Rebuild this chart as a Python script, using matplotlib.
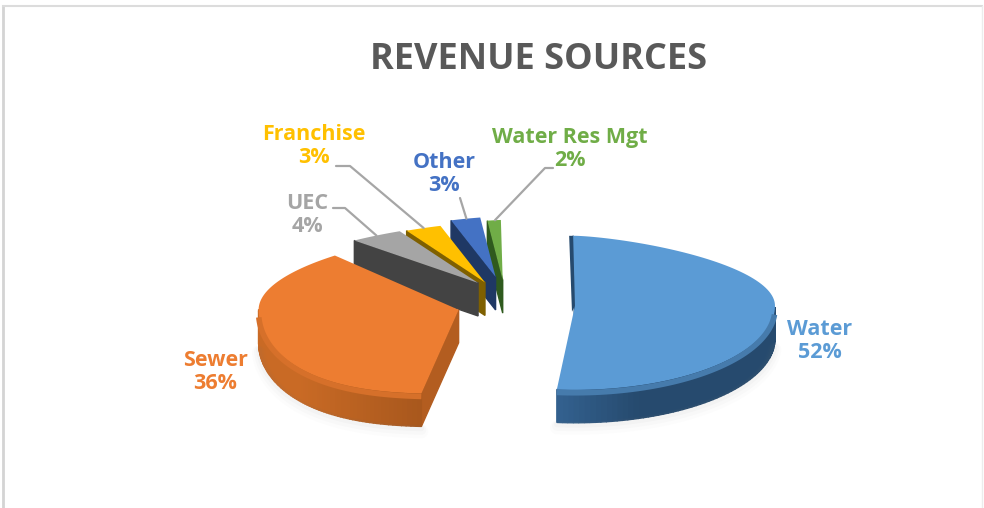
import matplotlib
matplotlib.use("Agg")
import matplotlib.pyplot as plt
import numpy as np

# chart data
categories = ["Water", "Sewer", "UEC", "Franchise", "Other", "Water Res Mgt"]
shares = [52, 36, 4, 3, 3, 2]
title = "REVENUE SOURCES"

top_colors = ["#5b9bd5", "#ed7d31", "#a5a5a5", "#ffc000", "#4472c4", "#70ad47"]
wall_colors = ["#264a6e", "#b35d20", "#434343", "#7f6000", "#1f3864", "#2f5a1e"]

# label centres, pixels
label_pos = [(820, 341), (215, 372), (307, 215), (314, 146), (444, 174), (570, 149)]

# leader lines: slice index, text end and elbow in pixels
leaders = {2: ((333, 208), (345, 208)), 3: ((336, 166), (350, 166)),
           4: ((460, 198), (460, 198)), 5: ((553, 168), (545, 168))}

# projection of the tilted pie, pixels
CX, CY = 515, 305
explode_x = [60, 60, 60, 70, 77, 126]
explode_y = [28, 14, 28, 25, 29, 25]
RX = 200
RY_FAR, RY_NEAR = 70, 84
HEIGHT = 33
START = -2.0
depth_scale = [1.0, 1.1, 0.86, 0.86, 0.86, 0.86]
near_power = [1.0, 0.7, 1.0, 1.0, 1.0, 1.0]


def project(theta, depth, power_near):
    # theta clockwise from 12 o'clock, shaped to copy the perspective of the 3D pie
    s, c = np.sin(theta), np.cos(theta)
    power = np.where(c > 0, 1.4, power_near)
    x = RX * np.sign(s) * np.abs(s) ** power
    y = np.where(c > 0, -RY_FAR * depth * c, -RY_NEAR * c)
    return x, y


def mix(a, b, t):
    a, b = np.array(matplotlib.colors.to_rgb(a)), np.array(matplotlib.colors.to_rgb(b))
    return tuple(a + (b - a) * t)


plt.rcParams["font.family"] = ["Open Sans", "DejaVu Sans"]

fig = plt.figure(figsize=(9.84, 5.08), dpi=100)
ax = fig.add_axes([0, 0, 1, 1])
ax.set_xlim(0, 984)
ax.set_ylim(508, 0)
ax.axis("off")

# frame of the pasted chart
ax.plot([3, 3], [508, 6], color="#d4d4d4", lw=2)
ax.plot([3, 982], [6, 6], color="#dcdcdc", lw=1.5)
ax.plot([982, 982], [6, 508], color="#ececec", lw=1)

# slices: painted from the back of the fan to the front
edges = START + np.cumsum([0] + shares) * 3.6
shapes = []
for i in range(len(shares)):
    t0, t1 = np.radians(edges[i]), np.radians(edges[i + 1])
    mid = (t0 + t1) / 2
    ax0 = CX + explode_x[i] * np.sin(mid)
    ay0 = CY - explode_y[i] * np.cos(mid)
    th = np.linspace(t0, t1, 120)
    x, y = project(th, depth_scale[i], near_power[i])
    px = np.concatenate([[ax0], ax0 + x])
    py = np.concatenate([[ay0], ay0 + y])
    shapes.append((px, py, th))

order = [5, 4, 3, 2, 0, 1]
for i in order:
    px, py, th = shapes[i]
    near = np.cos(th) < -0.05

    # soft shadow under the near edge
    if i < 2:
        for grow, alpha in [(10, 0.02), (7, 0.03), (4, 0.04)]:
            ax.plot(px[1:][near], py[1:][near] + HEIGHT + grow * 0.5, color="#808080",
                    alpha=alpha, lw=grow, solid_capstyle="round")

    # walls
    n = len(px)
    area = np.sum(px * np.roll(py, -1) - np.roll(px, -1) * py)
    for j in range(n):
        k = (j + 1) % n
        dx = px[k] - px[j]
        # outward normal pointing down the screen means the wall is seen
        ny = -dx if area > 0 else dx
        if ny <= 0:
            continue
        base = wall_colors[i]
        if i == 0 and j > 0:
            base = mix(wall_colors[0], "#33618f", np.clip((640 - px[j]) / 80, 0, 1))
        if i == 1 and j > 0:
            base = mix("#c96a25", "#a9581d", np.clip((px[j] - 300) / 120, 0, 1))
        ax.fill([px[j], px[k], px[k], px[j]],
                [py[j], py[k], py[k] + HEIGHT, py[j] + HEIGHT],
                color=base, lw=1)

    # dark sliver along the cut edge of the water slice
    if i == 0:
        ax.fill([px[1], px[0], px[0] - 3, px[1] - 4], [py[1], py[0], py[0] + 6, py[1]],
                color=wall_colors[0], lw=0)

    # top face, then a soft rim where it meets the wall
    if i < 2:
        ax.plot(px[1:][near], py[1:][near] + 3, color=mix(top_colors[i], wall_colors[i], 0.4),
                lw=4, solid_capstyle="butt")
    ax.fill(px, py, color=top_colors[i], lw=0)

# leader lines
for i, (end, elbow) in leaders.items():
    px, py, th = shapes[i]
    m = len(px) // 2
    ax.plot([end[0], elbow[0], px[m]], [end[1], elbow[1], py[m]], color="#a6a6a6", lw=1.6,
            solid_capstyle="round", solid_joinstyle="round")

# labels
for i, name in enumerate(categories):
    ax.text(label_pos[i][0], label_pos[i][1], f"{name}\n{shares[i]}%", color=top_colors[i],
            fontsize=15.5, fontweight="bold", ha="center", va="center", linespacing=1.18)

ax.text(539, 60, title, color="#595959", fontsize=26, fontweight="bold", ha="center", va="center")

fig.savefig("out.png", dpi=100)
